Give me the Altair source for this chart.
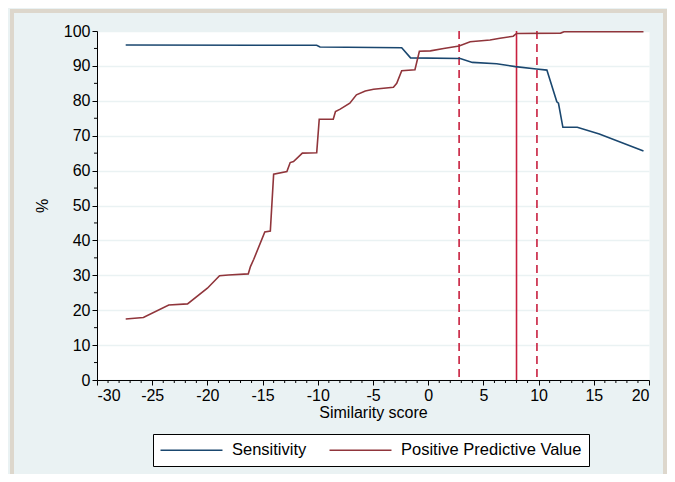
import altair as alt
import pandas as pd

# ---- data ----
sens_x = [-27.4, -10.1, -9.8, -2.4, -1.6, 2.9, 4.0, 6.2, 7.9, 9.8, 10.75, 11.65, 11.8, 12.2, 13.5, 15.5, 19.5]
sens_y = [96.0, 95.9, 95.4, 95.2, 92.3, 92.1, 91.0, 90.6, 89.8, 89.1, 88.8, 79.7, 79.3, 72.4, 72.4, 70.5, 65.6]

ppv_x = [-27.4, -25.8, -23.5, -21.8, -20.0, -18.9, -18.1, -16.3, -16.1, -15.8, -14.8, -14.3, -14.0,
         -12.8, -12.5, -12.2, -11.4, -10.1, -9.87, -8.6, -8.4, -7.97, -7.1, -6.5, -5.7, -4.95,
         -3.15, -2.85, -2.4, -1.2, -0.8, 0.2, 1.4, 2.8, 3.8, 5.6, 6.5, 7.7, 8.0, 12.0, 12.3, 19.5]
ppv_y = [17.5, 17.9, 21.5, 21.8, 26.3, 29.9, 30.1, 30.4, 32.5, 34.6, 42.4, 42.7, 59.0,
         59.7, 62.3, 62.6, 65.0, 65.1, 74.7, 74.7, 76.9, 77.6, 79.3, 81.7, 82.8, 83.3,
         83.9, 85.0, 88.6, 88.9, 94.2, 94.3, 95.0, 95.7, 96.9, 97.4, 97.9, 98.5, 99.3, 99.4, 99.8, 99.8]

series_names = ["Sensitivity", "Positive Predictive Value"]
series_colors = ["#1a476f", "#90353b"]

ref_solid = [8.0]
ref_dashed = [2.8, 9.85]

x_major = [-30, -25, -20, -15, -10, -5, 0, 5, 10, 15, 20]
y_major = [0, 10, 20, 30, 40, 50, 60, 70, 80, 90, 100]
x_minor = [v for v in range(-30, 21) if v % 5 != 0]
y_minor = [5, 15, 25, 35, 45, 55, 65, 75, 85, 95]

FONT = "Liberation Sans"
BG = "#EAF2F3"
FRAME = "#DDD7CC"
REF = "#C8203F"

W, H = 552, 349

df = pd.concat([
    pd.DataFrame({"x": sens_x, "y": sens_y, "series": series_names[0], "order": range(len(sens_x))}),
    pd.DataFrame({"x": ppv_x, "y": ppv_y, "series": series_names[1], "order": range(len(ppv_x))}),
])

xscale = alt.Scale(domain=[-30, 20], nice=False, zero=False)
yscale = alt.Scale(domain=[0, 100], nice=False, zero=False)

xaxis = alt.Axis(values=x_major, title="Similarity score", labelExpr="'' + datum.value",
                 grid=False, tickSize=5, labelPadding=2, titlePadding=1)
yaxis = alt.Axis(values=y_major, title="%", labelExpr="'' + datum.value",
                 grid=True, gridColor=BG, gridWidth=1.5, tickSize=5, labelPadding=2,
                 titlePadding=13, titleAngle=-90)

frame = alt.Chart(alt.Data(values=[{"a": 1}])).mark_rect(
    filled=False, stroke=FRAME, strokeWidth=4
).encode(
    x=alt.value(-85), x2=alt.value(568), y=alt.value(-20), y2=alt.value(470)
)

ref_s = alt.Chart(pd.DataFrame({"x": ref_solid})).mark_rule(
    color=REF, strokeWidth=1.6
).encode(x=alt.X("x:Q", scale=xscale, axis=xaxis))

ref_d = alt.Chart(pd.DataFrame({"x": ref_dashed})).mark_rule(
    color=REF, strokeWidth=1.6, strokeDash=[8, 5]
).encode(x=alt.X("x:Q", scale=xscale, axis=xaxis))

lines = alt.Chart(df).mark_line(strokeWidth=1.6).encode(
    x=alt.X("x:Q", scale=xscale, axis=xaxis),
    y=alt.Y("y:Q", scale=yscale, axis=yaxis),
    color=alt.Color("series:N", scale=alt.Scale(domain=series_names, range=series_colors),
                    legend=alt.Legend(title=None, orient="none", legendX=56, legendY=403,
                                      direction="horizontal", strokeColor="#000000",
                                      fillColor="#ffffff", padding=7,
                                      symbolType="M-4,0H4", symbolSize=240,
                                      symbolOffset=22.5, symbolStrokeWidth=1.6,
                                      labelFontSize=16.5, labelLimit=400,
                                      labelFont=FONT, labelColor="#000000",
                                      labelOffset=31.5, columnPadding=19)),
    detail="series:N",
    order="order:Q",
)

xminor = alt.Chart(pd.DataFrame({"x": x_minor})).mark_rule(color="#000000", strokeWidth=1).encode(
    x=alt.X("x:Q", scale=xscale, axis=xaxis), y=alt.value(H), y2=alt.value(H + 3)
)
yminor = alt.Chart(pd.DataFrame({"y": y_minor})).mark_rule(color="#000000", strokeWidth=1).encode(
    y=alt.Y("y:Q", scale=yscale, axis=yaxis), x=alt.value(-3), x2=alt.value(0)
)

chart = alt.layer(frame, ref_s, ref_d, lines, xminor, yminor).properties(
    width=W, height=H,
    padding={"left": 89, "top": 23, "right": 18, "bottom": 94},
    autosize=alt.AutoSizeParams(type="none"),
).configure(background=BG).configure_view(
    fill="#ffffff", strokeOpacity=0
).configure_axis(
    domainColor="#000000", domainWidth=1, tickColor="#000000", tickWidth=1,
    labelFont=FONT, labelFontSize=16, labelColor="#000000",
    titleFont=FONT, titleFontSize=16, titleColor="#000000", titleFontWeight="normal",
)

chart.save("out.html", embed_options={"renderer": "svg", "actions": False})
